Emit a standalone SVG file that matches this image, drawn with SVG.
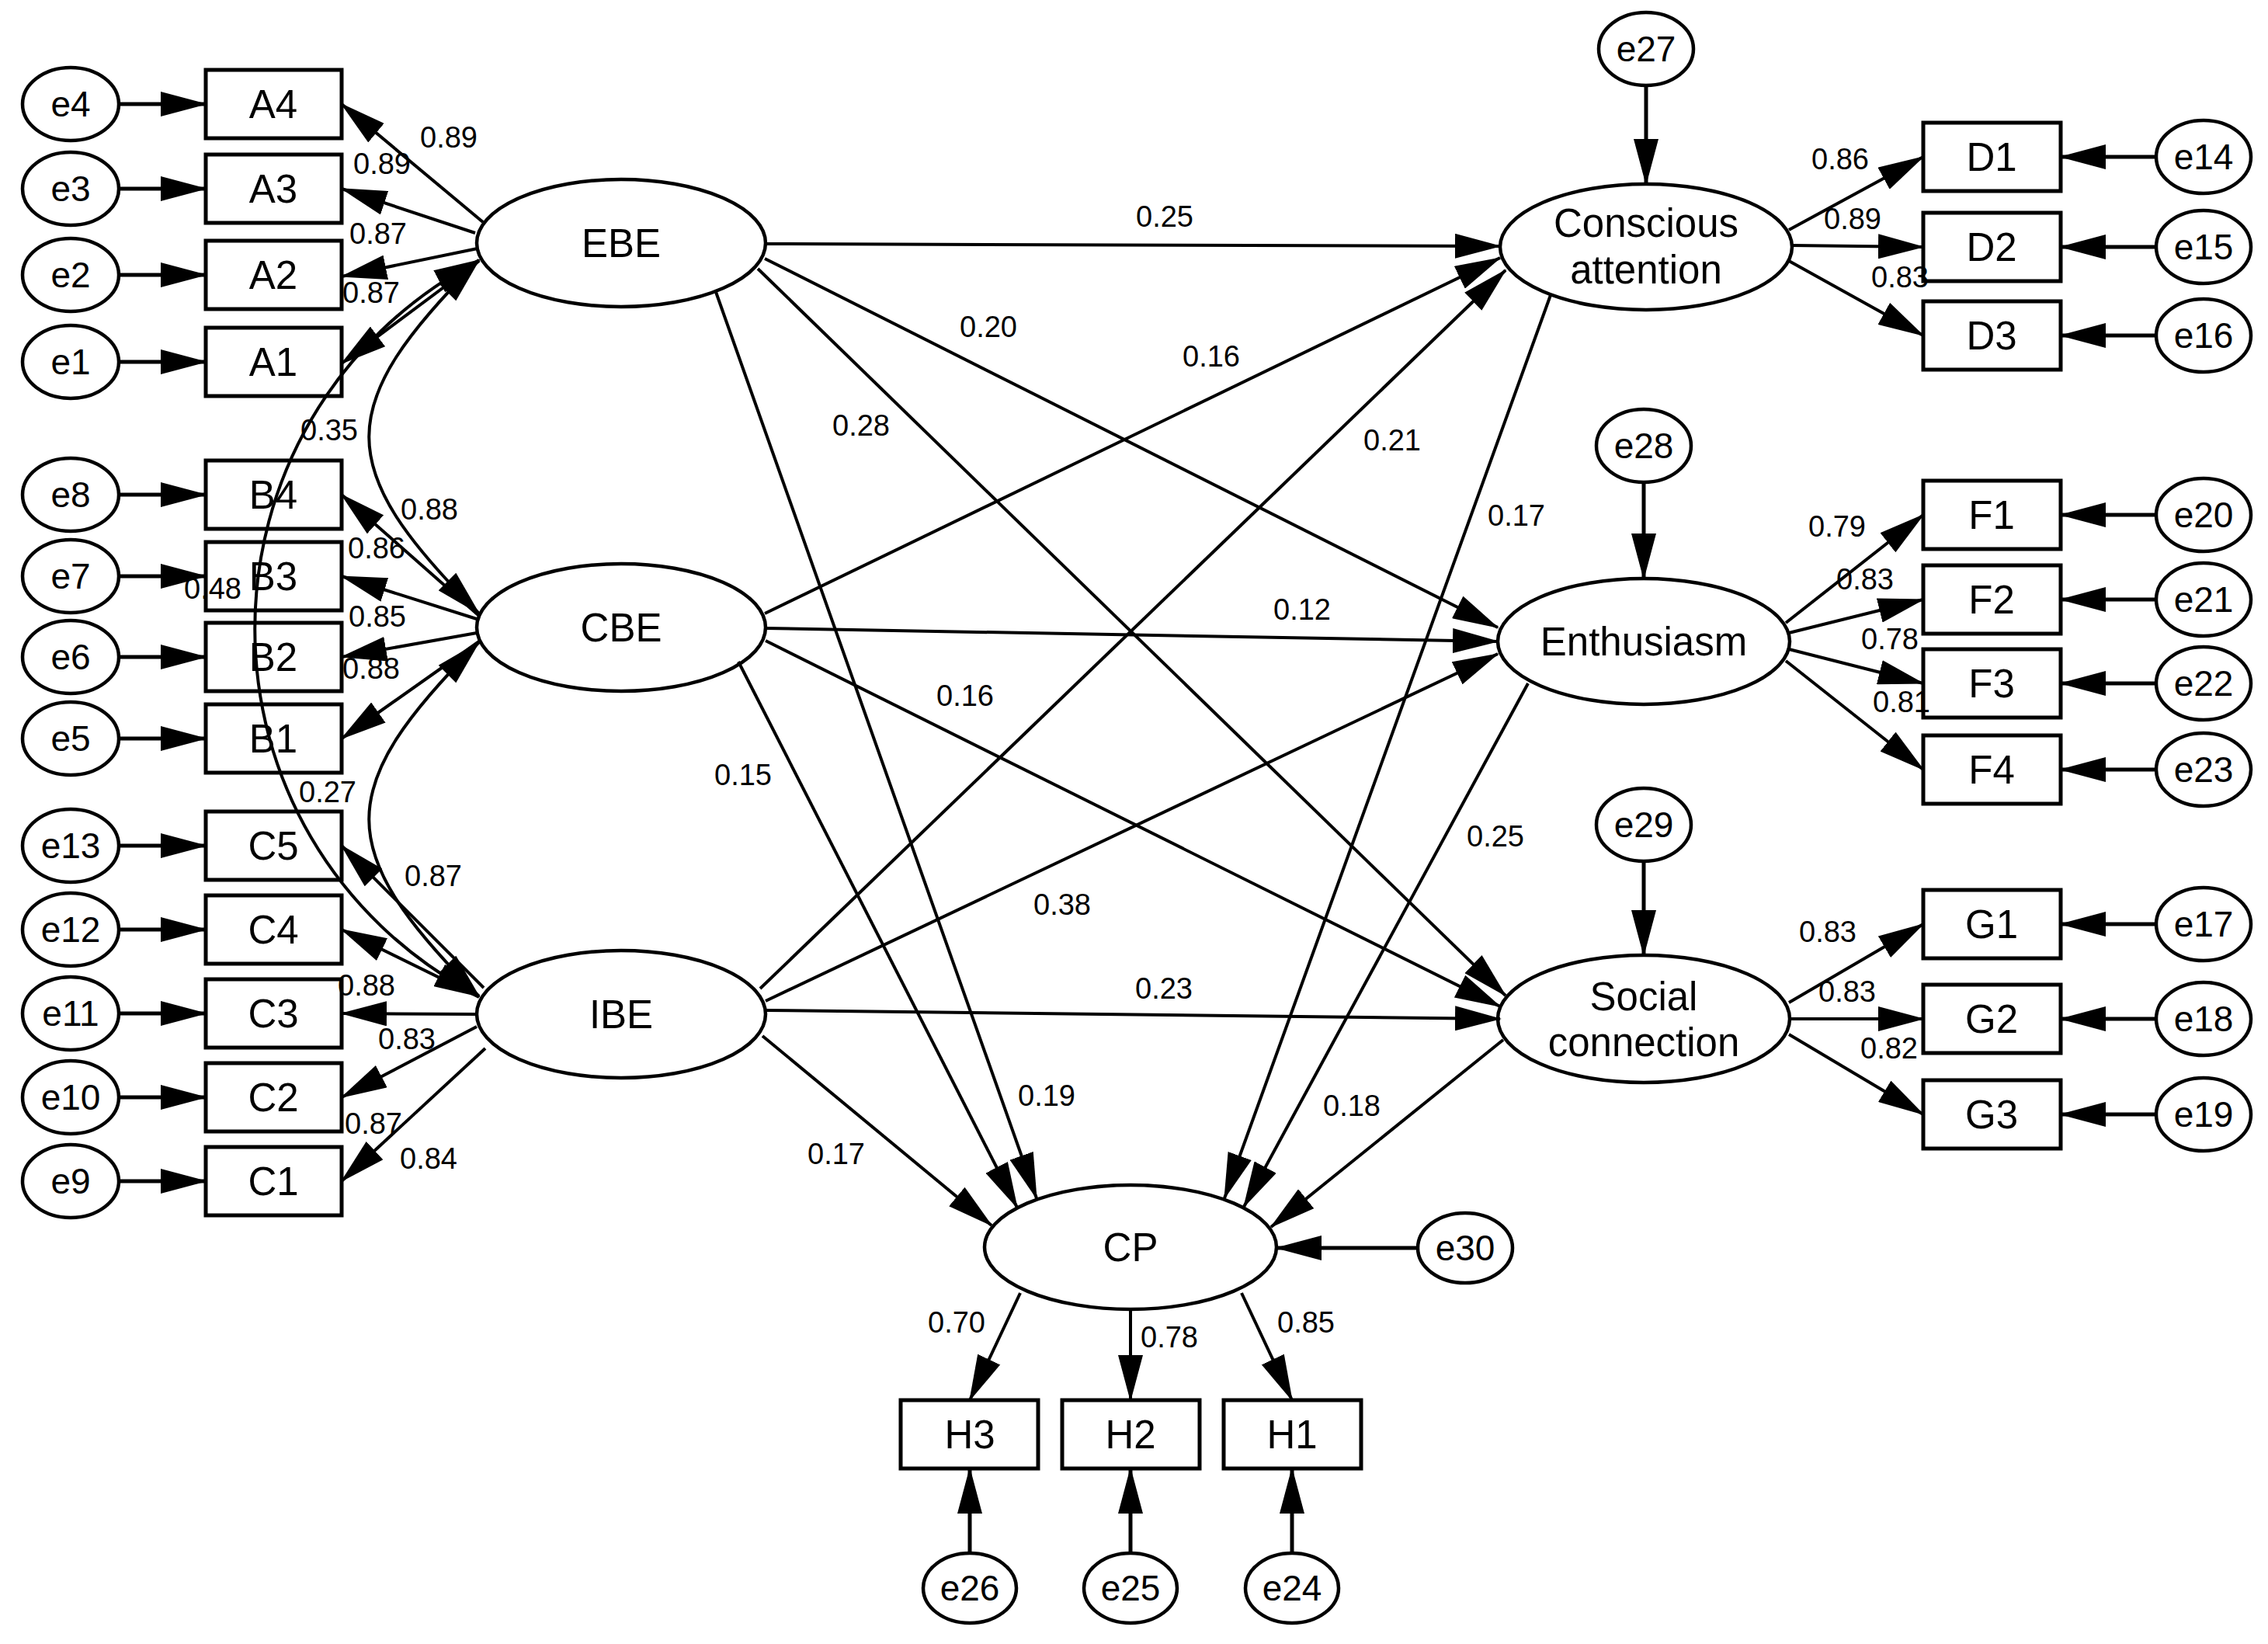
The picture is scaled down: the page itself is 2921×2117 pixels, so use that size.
<svg xmlns="http://www.w3.org/2000/svg" width="2921" height="2117" viewBox="0 0 2921 2117">
<style>
  .bg{fill:#fff}
  .n rect{fill:#fff;stroke:#000;stroke-width:5}
  .n ellipse{fill:#fff;stroke:#000;stroke-width:4.5}
  text{font-family:"Liberation Sans",Arial,sans-serif;fill:#000;text-anchor:middle;dominant-baseline:central}
  .t50{font-size:51px}
  .t44{font-size:46px}
  .lb text{font-size:38px}
  .c line,.c path{stroke:#000;fill:none;stroke-width:4;marker-end:url(#ah)}
  .c .e{stroke-width:5}
  .c .cov{marker-start:url(#ah2);marker-end:url(#ah2)}
</style>
<defs>
  <marker id="ah" viewBox="0 0 60 32" refX="58" refY="16" markerWidth="60" markerHeight="32" markerUnits="userSpaceOnUse" orient="auto"><path d="M0,0 L60,16 L0,32 z" fill="#000"/></marker>
  <marker id="ah2" viewBox="0 0 60 32" refX="58" refY="16" markerWidth="60" markerHeight="32" markerUnits="userSpaceOnUse" orient="auto-start-reverse"><path d="M0,0 L60,16 L0,32 z" fill="#000"/></marker>
</defs>
<rect class="bg" x="0" y="0" width="2921" height="2117"/>

<!-- left error terms and indicators -->
<g id="e4" class="n"><ellipse cx="91" cy="134" rx="62" ry="47"/><text x="91" y="134" class="t44">e4</text></g>
<g id="A4" class="n"><rect x="265" y="90" width="175" height="88"/><text x="352" y="134" class="t50">A4</text></g>
<g id="e3" class="n"><ellipse cx="91" cy="243" rx="62" ry="47"/><text x="91" y="243" class="t44">e3</text></g>
<g id="A3" class="n"><rect x="265" y="199" width="175" height="88"/><text x="352" y="243" class="t50">A3</text></g>
<g id="e2" class="n"><ellipse cx="91" cy="354" rx="62" ry="47"/><text x="91" y="354" class="t44">e2</text></g>
<g id="A2" class="n"><rect x="265" y="310" width="175" height="88"/><text x="352" y="354" class="t50">A2</text></g>
<g id="e1" class="n"><ellipse cx="91" cy="466" rx="62" ry="47"/><text x="91" y="466" class="t44">e1</text></g>
<g id="A1" class="n"><rect x="265" y="422" width="175" height="88"/><text x="352" y="466" class="t50">A1</text></g>

<g id="e8" class="n"><ellipse cx="91" cy="637" rx="62" ry="47"/><text x="91" y="637" class="t44">e8</text></g>
<g id="B4" class="n"><rect x="265" y="593" width="175" height="88"/><text x="352" y="637" class="t50">B4</text></g>
<g id="e7" class="n"><ellipse cx="91" cy="742" rx="62" ry="47"/><text x="91" y="742" class="t44">e7</text></g>
<g id="B3" class="n"><rect x="265" y="698" width="175" height="88"/><text x="352" y="742" class="t50">B3</text></g>
<g id="e6" class="n"><ellipse cx="91" cy="846" rx="62" ry="47"/><text x="91" y="846" class="t44">e6</text></g>
<g id="B2" class="n"><rect x="265" y="802" width="175" height="88"/><text x="352" y="846" class="t50">B2</text></g>
<g id="e5" class="n"><ellipse cx="91" cy="951" rx="62" ry="47"/><text x="91" y="951" class="t44">e5</text></g>
<g id="B1" class="n"><rect x="265" y="907" width="175" height="88"/><text x="352" y="951" class="t50">B1</text></g>

<g id="e13" class="n"><ellipse cx="91" cy="1089" rx="62" ry="47"/><text x="91" y="1089" class="t44">e13</text></g>
<g id="C5" class="n"><rect x="265" y="1045" width="175" height="88"/><text x="352" y="1089" class="t50">C5</text></g>
<g id="e12" class="n"><ellipse cx="91" cy="1197" rx="62" ry="47"/><text x="91" y="1197" class="t44">e12</text></g>
<g id="C4" class="n"><rect x="265" y="1153" width="175" height="88"/><text x="352" y="1197" class="t50">C4</text></g>
<g id="e11" class="n"><ellipse cx="91" cy="1305" rx="62" ry="47"/><text x="91" y="1305" class="t44">e11</text></g>
<g id="C3" class="n"><rect x="265" y="1261" width="175" height="88"/><text x="352" y="1305" class="t50">C3</text></g>
<g id="e10" class="n"><ellipse cx="91" cy="1413" rx="62" ry="47"/><text x="91" y="1413" class="t44">e10</text></g>
<g id="C2" class="n"><rect x="265" y="1369" width="175" height="88"/><text x="352" y="1413" class="t50">C2</text></g>
<g id="e9" class="n"><ellipse cx="91" cy="1521" rx="62" ry="47"/><text x="91" y="1521" class="t44">e9</text></g>
<g id="C1" class="n"><rect x="265" y="1477" width="175" height="88"/><text x="352" y="1521" class="t50">C1</text></g>

<!-- exogenous latents -->
<g id="EBE" class="n"><ellipse cx="800" cy="313" rx="186" ry="82"/><text x="800" y="313" class="t50">EBE</text></g>
<g id="CBE" class="n"><ellipse cx="800" cy="808" rx="186" ry="82"/><text x="800" y="808" class="t50">CBE</text></g>
<g id="IBE" class="n"><ellipse cx="800" cy="1306" rx="186" ry="82"/><text x="800" y="1306" class="t50">IBE</text></g>

<!-- endogenous latents -->
<g id="CA" class="n"><ellipse cx="2120" cy="318" rx="188" ry="81"/><text x="2120" y="287" class="t50">Conscious</text><text x="2120" y="347" class="t50">attention</text></g>
<g id="Enth" class="n"><ellipse cx="2117" cy="826" rx="188" ry="81"/><text x="2117" y="826" class="t50">Enthusiasm</text></g>
<g id="SC" class="n"><ellipse cx="2117" cy="1312" rx="188" ry="82"/><text x="2117" y="1283" class="t50">Social</text><text x="2117" y="1342" class="t50">connection</text></g>
<g id="CP" class="n"><ellipse cx="1456" cy="1606" rx="188" ry="80"/><text x="1456" y="1606" class="t50">CP</text></g>

<g id="e27" class="n"><ellipse cx="2120" cy="63" rx="61" ry="47"/><text x="2120" y="63" class="t44">e27</text></g>
<g id="e28" class="n"><ellipse cx="2117" cy="574" rx="61" ry="47"/><text x="2117" y="574" class="t44">e28</text></g>
<g id="e29" class="n"><ellipse cx="2117" cy="1062" rx="61" ry="47"/><text x="2117" y="1062" class="t44">e29</text></g>
<g id="e30" class="n"><ellipse cx="1887" cy="1607" rx="61" ry="45"/><text x="1887" y="1607" class="t44">e30</text></g>

<!-- right indicators -->
<g id="D1" class="n"><rect x="2477" y="158" width="177" height="88"/><text x="2565" y="202" class="t50">D1</text></g>
<g id="e14" class="n"><ellipse cx="2838" cy="202" rx="61" ry="47"/><text x="2838" y="202" class="t44">e14</text></g>
<g id="D2" class="n"><rect x="2477" y="274" width="177" height="88"/><text x="2565" y="318" class="t50">D2</text></g>
<g id="e15" class="n"><ellipse cx="2838" cy="318" rx="61" ry="47"/><text x="2838" y="318" class="t44">e15</text></g>
<g id="D3" class="n"><rect x="2477" y="388" width="177" height="88"/><text x="2565" y="432" class="t50">D3</text></g>
<g id="e16" class="n"><ellipse cx="2838" cy="432" rx="61" ry="47"/><text x="2838" y="432" class="t44">e16</text></g>

<g id="F1" class="n"><rect x="2477" y="619" width="177" height="88"/><text x="2565" y="663" class="t50">F1</text></g>
<g id="e20" class="n"><ellipse cx="2838" cy="663" rx="61" ry="47"/><text x="2838" y="663" class="t44">e20</text></g>
<g id="F2" class="n"><rect x="2477" y="728" width="177" height="88"/><text x="2565" y="772" class="t50">F2</text></g>
<g id="e21" class="n"><ellipse cx="2838" cy="772" rx="61" ry="47"/><text x="2838" y="772" class="t44">e21</text></g>
<g id="F3" class="n"><rect x="2477" y="836" width="177" height="88"/><text x="2565" y="880" class="t50">F3</text></g>
<g id="e22" class="n"><ellipse cx="2838" cy="880" rx="61" ry="47"/><text x="2838" y="880" class="t44">e22</text></g>
<g id="F4" class="n"><rect x="2477" y="947" width="177" height="88"/><text x="2565" y="991" class="t50">F4</text></g>
<g id="e23" class="n"><ellipse cx="2838" cy="991" rx="61" ry="47"/><text x="2838" y="991" class="t44">e23</text></g>

<g id="G1" class="n"><rect x="2477" y="1146" width="177" height="88"/><text x="2565" y="1190" class="t50">G1</text></g>
<g id="e17" class="n"><ellipse cx="2838" cy="1190" rx="61" ry="47"/><text x="2838" y="1190" class="t44">e17</text></g>
<g id="G2" class="n"><rect x="2477" y="1268" width="177" height="88"/><text x="2565" y="1312" class="t50">G2</text></g>
<g id="e18" class="n"><ellipse cx="2838" cy="1312" rx="61" ry="47"/><text x="2838" y="1312" class="t44">e18</text></g>
<g id="G3" class="n"><rect x="2477" y="1391" width="177" height="88"/><text x="2565" y="1435" class="t50">G3</text></g>
<g id="e19" class="n"><ellipse cx="2838" cy="1435" rx="61" ry="47"/><text x="2838" y="1435" class="t44">e19</text></g>

<!-- CP indicators -->
<g id="H3" class="n"><rect x="1160" y="1803" width="177" height="88"/><text x="1249" y="1847" class="t50">H3</text></g>
<g id="H2" class="n"><rect x="1368" y="1803" width="177" height="88"/><text x="1456" y="1847" class="t50">H2</text></g>
<g id="H1" class="n"><rect x="1576" y="1803" width="177" height="88"/><text x="1664" y="1847" class="t50">H1</text></g>
<g id="e26" class="n"><ellipse cx="1249" cy="2045" rx="60" ry="45"/><text x="1249" y="2045" class="t44">e26</text></g>
<g id="e25" class="n"><ellipse cx="1456" cy="2045" rx="60" ry="45"/><text x="1456" y="2045" class="t44">e25</text></g>
<g id="e24" class="n"><ellipse cx="1664" cy="2045" rx="60" ry="45"/><text x="1664" y="2045" class="t44">e24</text></g>

<g id="connectors" class="c">
  <!-- error to indicator, left -->
  <line class="e" x1="153" y1="134" x2="265" y2="134"/>
  <line class="e" x1="153" y1="243" x2="265" y2="243"/>
  <line class="e" x1="153" y1="354" x2="265" y2="354"/>
  <line class="e" x1="153" y1="466" x2="265" y2="466"/>
  <line class="e" x1="153" y1="637" x2="265" y2="637"/>
  <line class="e" x1="153" y1="742" x2="265" y2="742"/>
  <line class="e" x1="153" y1="846" x2="265" y2="846"/>
  <line class="e" x1="153" y1="951" x2="265" y2="951"/>
  <line class="e" x1="153" y1="1089" x2="265" y2="1089"/>
  <line class="e" x1="153" y1="1197" x2="265" y2="1197"/>
  <line class="e" x1="153" y1="1305" x2="265" y2="1305"/>
  <line class="e" x1="153" y1="1413" x2="265" y2="1413"/>
  <line class="e" x1="153" y1="1521" x2="265" y2="1521"/>
  <!-- error to indicator, right -->
  <line class="e" x1="2777" y1="202" x2="2654" y2="202"/>
  <line class="e" x1="2777" y1="318" x2="2654" y2="318"/>
  <line class="e" x1="2777" y1="432" x2="2654" y2="432"/>
  <line class="e" x1="2777" y1="663" x2="2654" y2="663"/>
  <line class="e" x1="2777" y1="772" x2="2654" y2="772"/>
  <line class="e" x1="2777" y1="880" x2="2654" y2="880"/>
  <line class="e" x1="2777" y1="991" x2="2654" y2="991"/>
  <line class="e" x1="2777" y1="1190" x2="2654" y2="1190"/>
  <line class="e" x1="2777" y1="1312" x2="2654" y2="1312"/>
  <line class="e" x1="2777" y1="1435" x2="2654" y2="1435"/>
  <!-- error to indicator, bottom -->
  <line class="e" x1="1249" y1="2000" x2="1249" y2="1891"/>
  <line class="e" x1="1456" y1="2000" x2="1456" y2="1891"/>
  <line class="e" x1="1664" y1="2000" x2="1664" y2="1891"/>
  <!-- disturbances -->
  <line class="e" x1="2120" y1="110" x2="2120" y2="237"/>
  <line class="e" x1="2117" y1="621" x2="2117" y2="745"/>
  <line class="e" x1="2117" y1="1109" x2="2117" y2="1230"/>
  <line class="e" x1="1826" y1="1607" x2="1644" y2="1607"/>
  <!-- loadings left -->
  <line x1="622" y1="286" x2="440" y2="134"/>
  <line x1="612" y1="300" x2="440" y2="243"/>
  <line x1="615" y1="320" x2="440" y2="356"/>
  <line x1="617" y1="336" x2="440" y2="468"/>
  <line x1="617" y1="793" x2="440" y2="637"/>
  <line x1="617" y1="798" x2="440" y2="742"/>
  <line x1="614" y1="815" x2="440" y2="846"/>
  <line x1="617" y1="826" x2="440" y2="951"/>
  <line x1="623" y1="1272" x2="440" y2="1089"/>
  <line x1="617" y1="1284" x2="440" y2="1197"/>
  <line x1="614" y1="1306" x2="440" y2="1305"/>
  <line x1="614" y1="1322" x2="440" y2="1413"/>
  <line x1="625" y1="1350" x2="440" y2="1521"/>
  <!-- covariances -->
  <path class="cov" d="M617,335 C428,524 428,601 617,790"/>
  <path class="cov" d="M617,827 C428,1016 428,1094 617,1283"/>
  <path class="cov" d="M617,335 C232,540 232,1080 617,1283"/>
  <!-- structural paths -->
  <line x1="987" y1="314" x2="1932" y2="317"/>
  <line x1="985" y1="333" x2="1929" y2="808"/>
  <line x1="976" y1="346" x2="1939" y2="1282"/>
  <line x1="922" y1="376" x2="1335" y2="1543"/>
  <line x1="985" y1="790" x2="1932" y2="332"/>
  <line x1="987" y1="809" x2="1929" y2="826"/>
  <line x1="986" y1="825" x2="1932" y2="1296"/>
  <line x1="951" y1="852" x2="1310" y2="1555"/>
  <line x1="979" y1="1273" x2="1939" y2="348"/>
  <line x1="986" y1="1289" x2="1929" y2="842"/>
  <line x1="987" y1="1301" x2="1932" y2="1312"/>
  <line x1="982" y1="1334" x2="1277" y2="1578"/>
  <line x1="1997" y1="380" x2="1577" y2="1543"/>
  <line x1="1968" y1="880" x2="1602" y2="1554"/>
  <line x1="1936" y1="1339" x2="1637" y2="1580"/>
  <!-- loadings right -->
  <line x1="2304" y1="296" x2="2477" y2="202"/>
  <line x1="2308" y1="316" x2="2477" y2="318"/>
  <line x1="2304" y1="336" x2="2477" y2="432"/>
  <line x1="2300" y1="802" x2="2477" y2="663"/>
  <line x1="2304" y1="815" x2="2477" y2="772"/>
  <line x1="2304" y1="836" x2="2477" y2="880"/>
  <line x1="2300" y1="851" x2="2477" y2="991"/>
  <line x1="2304" y1="1291" x2="2477" y2="1190"/>
  <line x1="2306" y1="1312" x2="2477" y2="1312"/>
  <line x1="2304" y1="1332" x2="2477" y2="1435"/>
  <!-- loadings CP -->
  <line x1="1314" y1="1665" x2="1249" y2="1803"/>
  <line x1="1456" y1="1686" x2="1456" y2="1803"/>
  <line x1="1599" y1="1665" x2="1664" y2="1803"/>
</g>

<g id="labels" class="lb">
  <text x="578" y="177">0.89</text>
  <text x="492" y="211">0.89</text>
  <text x="487" y="301">0.87</text>
  <text x="478" y="377">0.87</text>
  <text x="424" y="554">0.35</text>
  <text x="553" y="656">0.88</text>
  <text x="485" y="706">0.86</text>
  <text x="274" y="758">0.48</text>
  <text x="486" y="794">0.85</text>
  <text x="478" y="861">0.88</text>
  <text x="422" y="1020">0.27</text>
  <text x="558" y="1128">0.87</text>
  <text x="472" y="1269">0.88</text>
  <text x="524" y="1338">0.83</text>
  <text x="481" y="1447">0.87</text>
  <text x="552" y="1492">0.84</text>
  <text x="1500" y="279">0.25</text>
  <text x="1273" y="421">0.20</text>
  <text x="1560" y="459">0.16</text>
  <text x="1109" y="548">0.28</text>
  <text x="1793" y="567">0.21</text>
  <text x="1953" y="664">0.17</text>
  <text x="1677" y="785">0.12</text>
  <text x="1243" y="896">0.16</text>
  <text x="957" y="998">0.15</text>
  <text x="1926" y="1077">0.25</text>
  <text x="1368" y="1165">0.38</text>
  <text x="1499" y="1273">0.23</text>
  <text x="1348" y="1411">0.19</text>
  <text x="1741" y="1424">0.18</text>
  <text x="1077" y="1486">0.17</text>
  <text x="2370" y="205">0.86</text>
  <text x="2386" y="282">0.89</text>
  <text x="2447" y="357">0.83</text>
  <text x="2366" y="678">0.79</text>
  <text x="2402" y="746">0.83</text>
  <text x="2434" y="823">0.78</text>
  <text x="2449" y="904">0.81</text>
  <text x="2354" y="1200">0.83</text>
  <text x="2379" y="1277">0.83</text>
  <text x="2433" y="1350">0.82</text>
  <text x="1232" y="1703">0.70</text>
  <text x="1506" y="1722">0.78</text>
  <text x="1682" y="1703">0.85</text>
</g>
</svg>
